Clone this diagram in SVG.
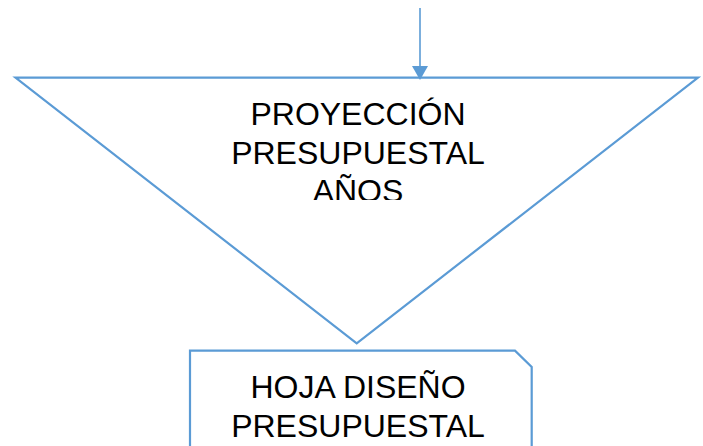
<svg xmlns="http://www.w3.org/2000/svg" width="703" height="446" viewBox="0 0 703 446">
<style>
.shape{fill:#fff;stroke:#5B9BD5;stroke-width:2.2;stroke-linejoin:miter}
.lbl{font-family:"Liberation Sans",Arial,sans-serif;font-size:32px;fill:#000;text-anchor:middle}
.conn{stroke:#5B9BD5;stroke-width:1.6;fill:none}
</style>
<defs>
<marker id="ah" viewBox="0 0 10 10" refX="10" refY="5" markerWidth="10" markerHeight="10" markerUnits="userSpaceOnUse" orient="auto">
<path d="M0,0 L10,5 L0,10 z" fill="#5B9BD5"/>
</marker>
<clipPath id="triClip"><rect x="0" y="78" width="703" height="122"/></clipPath>
</defs>
<rect width="703" height="446" fill="#fff"/>
<g id="node-proyeccion">
<polygon class="shape" points="15.5,77.7 698,77.7 356.7,343.3"/>
<g clip-path="url(#triClip)">
<text class="lbl" x="358" y="125">PROYECCIÓN</text>
<text class="lbl" x="358" y="163.5">PRESUPUESTAL</text>
<text class="lbl" x="358" y="202">AÑOS</text>
</g>
</g>
<g id="node-hoja">
<path class="shape" d="M190,460 L190,350.7 L515,350.7 L531.7,367 L531.7,460"/>
<text class="lbl" x="358" y="397.5">HOJA DISEÑO</text>
<text class="lbl" x="358" y="436.5">PRESUPUESTAL</text>
</g>
<g id="connectors">
<line class="conn" x1="420" y1="8" x2="420" y2="66"/>
<path d="M412,66 L428,66 L420,80 z" fill="#5B9BD5"/>
</g>
</svg>
